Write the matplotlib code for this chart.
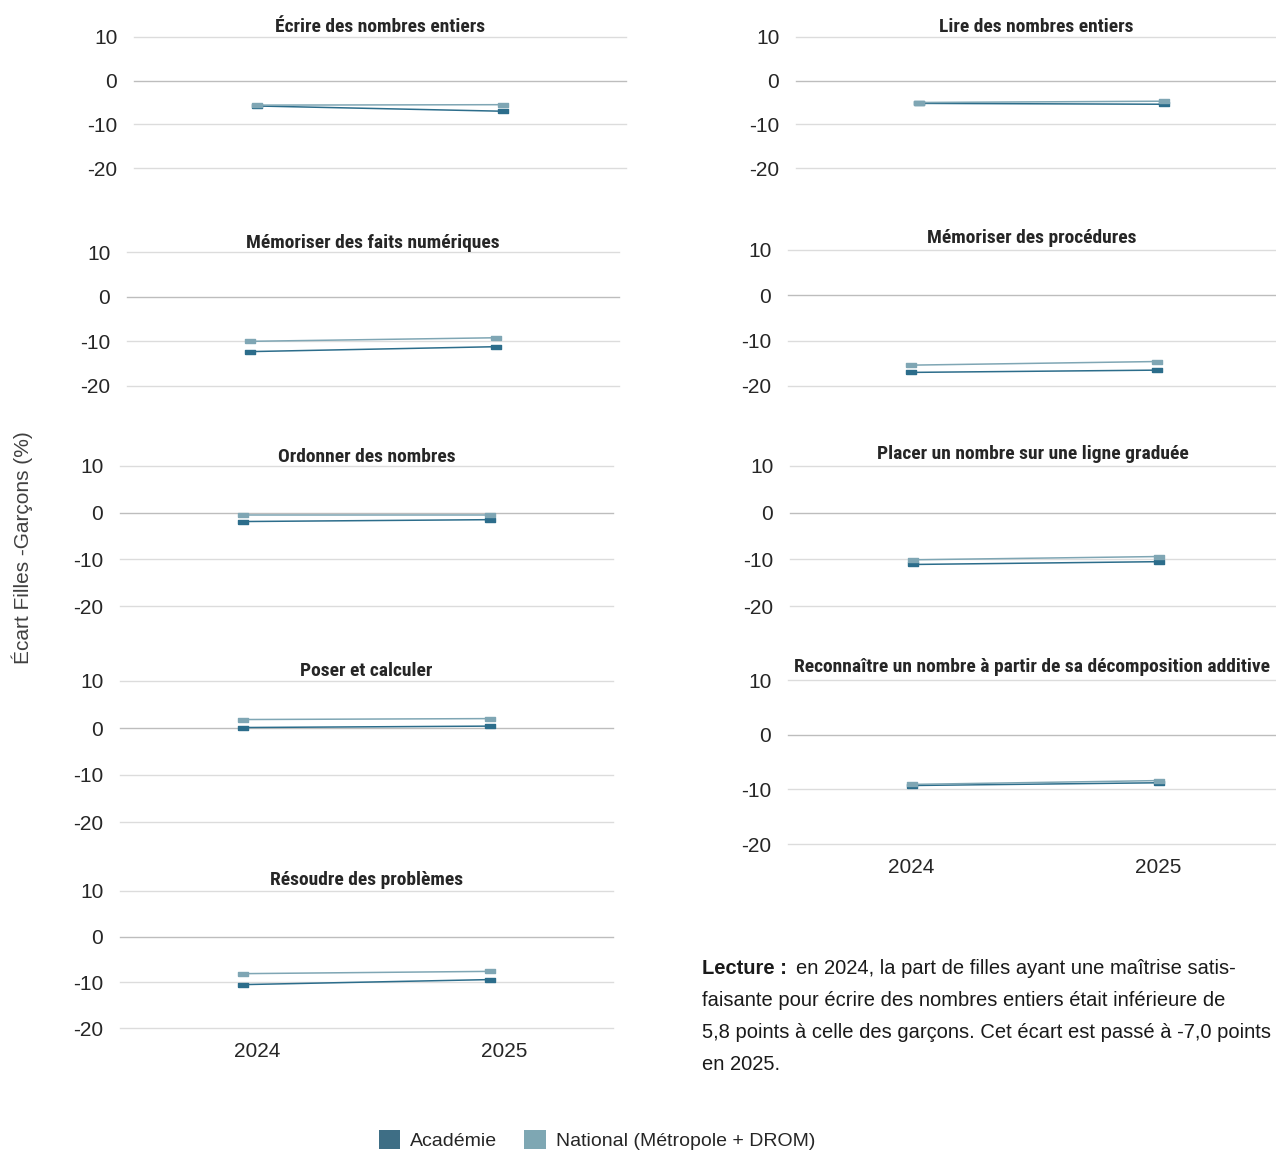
import matplotlib
matplotlib.use("Agg")
import matplotlib.pyplot as plt
import matplotlib.transforms as mtransforms
from matplotlib.patches import Patch

W, H = 1276, 1151

years = ["2024", "2025"]
series_names = ["Académie", "National (Métropole + DROM)"]

titles_left = ["Écrire des nombres entiers", "Mémoriser des faits numériques",
               "Ordonner des nombres", "Poser et calculer", "Résoudre des problèmes"]
titles_right = ["Lire des nombres entiers", "Mémoriser des procédures",
                "Placer un nombre sur une ligne graduée",
                "Reconnaître un nombre à partir de sa décomposition additive"]

acad_ecrire = [-5.8, -7.0]
nat_ecrire = [-5.6, -5.5]
acad_faits = [-12.3, -11.2]
nat_faits = [-10.0, -9.2]
acad_ordonner = [-1.9, -1.5]
nat_ordonner = [-0.4, -0.4]
acad_poser = [0.1, 0.4]
nat_poser = [1.8, 2.0]
acad_resoudre = [-10.5, -9.4]
nat_resoudre = [-8.1, -7.6]

acad_lire = [-5.2, -5.4]
nat_lire = [-5.0, -4.7]
acad_proc = [-17.0, -16.5]
nat_proc = [-15.4, -14.6]
acad_placer = [-11.1, -10.5]
nat_placer = [-10.1, -9.4]
acad_reconn = [-9.3, -8.8]
nat_reconn = [-9.1, -8.4]

yticks = [10, 0, -10, -20]

left_data = [(acad_ecrire, nat_ecrire), (acad_faits, nat_faits), (acad_ordonner, nat_ordonner),
             (acad_poser, nat_poser), (acad_resoudre, nat_resoudre)]
right_data = [(acad_lire, nat_lire), (acad_proc, nat_proc), (acad_placer, nat_placer),
              (acad_reconn, nat_reconn)]

# pixel boxes (x0, x1, ytop, ybottom)
left_boxes = [(134, 626, 37, 168), (127, 619, 252, 386), (120, 613, 466, 606),
              (120, 613, 681, 822), (120, 613, 891, 1028)]
right_boxes = [(796, 1286, 37, 168), (788, 1280, 250, 386), (790, 1282, 466, 606),
               (788, 1282, 680, 844)]
title_gap = [10, 9, 9, 10, 11]
title_gap_r = [10, 12, 12, 13]

C_ACAD = "#2c6d8b"
C_NAT = "#7fa6b4"
C_ACAD_LEG = "#3e6e85"
C_NAT_LEG = "#7ea7b3"
TXT = "#262626"
TITLE_FAM = ["Roboto Condensed", "Liberation Sans Narrow", "Liberation Sans", "DejaVu Sans"]
BODY_FAM = ["Liberation Sans", "DejaVu Sans"]

fig = plt.figure(figsize=(W / 100, H / 100), dpi=100)
fig.patch.set_facecolor("white")
renderer = fig.canvas.get_renderer()

# uniform title size so that the longest title fits its reference width (476 px)
probe = fig.text(0, 0, titles_right[3], fontsize=13, fontweight="bold", family=TITLE_FAM)
pw = probe.get_window_extent(renderer=renderer).width
probe.remove()
title_size = min(14, 13 * 476 / pw)

rect = [(-2, -1), (2, -1), (2, 1), (-2, 1), (-2, -1)]


def make_panel(box, title, acad, nat, show_x, gap, xlab_shift=0):
    x0, x1, yt, yb = box
    ax = fig.add_axes([x0 / W, 1 - yb / H, (x1 - x0) / W, (yb - yt) / H])
    xs = list(range(len(years)))
    ax.plot(xs, acad, color=C_ACAD, lw=1.1, marker=rect, ms=6.5, mfc=C_ACAD, mec=C_ACAD, zorder=3)
    ax.plot(xs, nat, color=C_NAT, lw=1.1, marker=rect, ms=6.5, mfc=C_NAT, mec=C_NAT, zorder=4)
    ax.set_xlim(-0.5, 1.5)
    ax.set_ylim(-20, 10)
    ax.set_yticks(yticks)
    ax.set_yticklabels([str(v) for v in yticks], fontsize=15, color=TXT, family=BODY_FAM)
    for v in yticks:
        ax.axhline(v, color="#bdbdbd" if v == 0 else "#dcdcdc", lw=1.0, zorder=1, clip_on=False)
    for s in ax.spines.values():
        s.set_visible(False)
    ax.tick_params(axis="y", length=0, pad=12)
    ax.tick_params(axis="x", length=0, pad=10)
    if show_x:
        ax.set_xticks(xs)
        ax.set_xticklabels(years, fontsize=15, color=TXT, family=BODY_FAM)
        if xlab_shift:
            off = mtransforms.ScaledTranslation(xlab_shift / 100, 0, fig.dpi_scale_trans)
            for lab in ax.get_xticklabels():
                lab.set_transform(lab.get_transform() + off)
    else:
        ax.set_xticks([])
    xc = (x0 + min(x1, W)) / 2
    fig.text(xc / W, 1 - (yt - gap) / H, title, ha="center", va="center", fontsize=title_size,
             fontweight="bold", color=TXT, family=TITLE_FAM)
    return ax


for i, (box, t, (a, n)) in enumerate(zip(left_boxes, titles_left, left_data)):
    last = i == len(left_boxes) - 1
    make_panel(box, t, a, n, last, title_gap[i], xlab_shift=14 if last else 0)
for i, (box, t, (a, n)) in enumerate(zip(right_boxes, titles_right, right_data)):
    make_panel(box, t, a, n, i == len(right_boxes) - 1, title_gap_r[i])

fig.text(22 / W, 1 - 548 / H, "Écart Filles -Garçons (%)", rotation=90, ha="center", va="center",
         fontsize=15, color="#404040", family=BODY_FAM)

# Lecture note
lines = ["en 2024, la part de filles ayant une maîtrise satis-",
         "faisante pour écrire des nombres entiers était inférieure de",
         "5,8 points à celle des garçons. Cet écart est passé à -7,0 points",
         "en 2025."]
lx = 702
ly = [968, 1000, 1032, 1064]
LS = 14.5
tb = fig.text(lx / W, 1 - ly[0] / H, "Lecture :", fontsize=LS, fontweight="bold", color="#1a1a1a",
              family=BODY_FAM, va="center", ha="left")
bw = tb.get_window_extent(renderer=renderer).width
fig.text((lx + bw + 9) / W, 1 - ly[0] / H, lines[0], fontsize=LS, color="#1a1a1a",
         family=BODY_FAM, va="center", ha="left")
for y, s in zip(ly[1:], lines[1:]):
    fig.text(lx / W, 1 - y / H, s, fontsize=LS, color="#1a1a1a", family=BODY_FAM,
             va="center", ha="left")

handles = [Patch(facecolor=C_ACAD_LEG, edgecolor="none"), Patch(facecolor=C_NAT_LEG, edgecolor="none")]
fig.legend(handles, series_names, loc="center", bbox_to_anchor=(597 / W, 1 - 1140 / H), ncol=2,
           frameon=False, prop={"family": BODY_FAM, "size": 14}, handlelength=1.1,
           handleheight=1.1, handletextpad=0.5, columnspacing=1.4, labelcolor=TXT)

fig.savefig("out.png", dpi=100, facecolor="white")
